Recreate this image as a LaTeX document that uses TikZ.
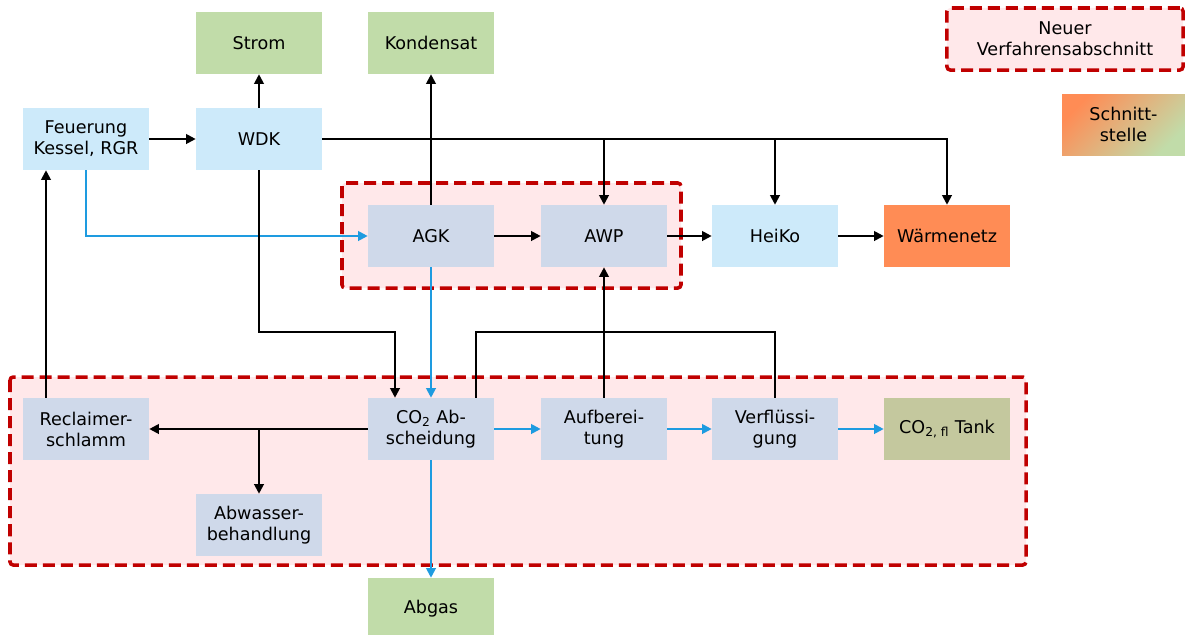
\documentclass[tikz,border=0pt]{standalone}
\usepackage{fontspec}
\setmainfont{DejaVu Sans}
\usetikzlibrary{arrows.meta}
\definecolor{lblue}{HTML}{CDEAFA}
\definecolor{gblue}{HTML}{CFD9EA}
\definecolor{lgreen}{HTML}{C1DCA9}
\definecolor{tankgreen}{HTML}{C4C89E}
\definecolor{netzorange}{HTML}{FF8C55}
\definecolor{regionpink}{HTML}{FFE8EA}
\definecolor{regionred}{HTML}{C00000}
\definecolor{gasblue}{HTML}{1E9BE0}

\begin{document}
\begin{tikzpicture}[x=0.025cm,y=-0.025cm,
  block/.style={rectangle,minimum width=3.15cm,minimum height=1.55cm,inner sep=1pt,align=center,font=\fontsize{12.5}{15}\selectfont},
  steam/.style={block,fill=lblue},
  unit/.style={block,fill=gblue},
  product/.style={block,fill=lgreen},
  region/.style={draw=regionred,fill=regionpink,line width=2.5pt,dash pattern=on 0.3cm off 0.15cm,rounded corners=0.08cm},
  flow/.style={draw,line width=1.4pt,-{Triangle[length=0.24cm,width=0.24cm]}},
  gas/.style={flow,draw=gasblue,-{Triangle[length=0.24cm,width=0.24cm]}},
  plain/.style={draw,line width=1.4pt}]
\useasboundingbox (0,0) rectangle (1185,634);
% neue Verfahrensabschnitte
\draw[region] (10,377) rectangle (1026,565);
\draw[region] (342,183) rectangle (681,288);
% Legende
\node[block,region,minimum width=5.9cm] (leg1) at (1065,39) {Neuer\\Verfahrensabschnitt};
\shade[top color=netzorange,bottom color=lgreen,shading angle=45] (1062,94) rectangle (1185,155);
\node[block,minimum width=3.08cm,minimum height=1.53cm] (leg2) at (1123.5,124.5) {Schnitt-\\stelle};
% Bloecke
\node[product] (strom) at (259,43) {Strom};
\node[product] (kond) at (431,43) {Kondensat};
\node[steam] (feuer) at (86,139) {Feuerung\\Kessel, RGR};
\node[steam] (wdk) at (259,139) {WDK};
\node[unit] (agk) at (431,236) {AGK};
\node[unit] (awp) at (604,236) {AWP};
\node[steam] (heiko) at (775,236) {HeiKo};
\node[block,fill=netzorange] (waerme) at (947,236) {Wärmenetz};
\node[unit] (recl) at (86,429) {Reclaimer-\\schlamm};
\node[unit] (abs) at (431,429) {CO\textsubscript{2} Ab-\\scheidung};
\node[unit] (aufb) at (604,429) {Aufberei-\\tung};
\node[unit] (verfl) at (775,429) {Verflüssi-\\gung};
\node[block,fill=tankgreen] (tank) at (947,429) {CO\textsubscript{2, fl} Tank};
\node[unit] (abw) at (259,525) {Abwasser-\\behandlung};
\node[product] (abgas) at (431,609) {Abgas};
% Hilfspunkte
\coordinate (k1) at (395,332);
\coordinate (k2) at (476,332);
\coordinate (k3) at (46,0);
% Verbindungen
\path (feuer) edge[flow] (wdk);
\path (wdk) edge[flow] (strom);
\path (agk) edge[flow] (kond);
\draw[flow] (wdk.east) -| (waerme.north);
\draw[flow] (wdk.east -| awp.north) -- (awp.north);
\draw[flow] (wdk.east -| heiko.north) -- (heiko.north);
\draw[gas] (feuer.south) |- (agk.west);
\draw[flow] (wdk.south) |- (k1) -- (k1 |- abs.north);
\path (agk) edge[gas] (abs);
\path (agk) edge[flow] (awp);
\path (awp) edge[flow] (heiko);
\path (heiko) edge[flow] (waerme);
\draw[plain] (k2 |- abs.north) -- (k2) -| (verfl.north);
\path (aufb) edge[flow] (awp);
\path (abs) edge[gas] (aufb);
\path (aufb) edge[gas] (verfl);
\path (verfl) edge[gas] (tank);
\path (abs) edge[flow] (recl);
\draw[flow] (abs.west -| abw.north) -- (abw);
\draw[flow] (recl.north -| k3) -- (feuer.south -| k3);
\path (abs) edge[gas] (abgas);
\end{tikzpicture}
\end{document}
